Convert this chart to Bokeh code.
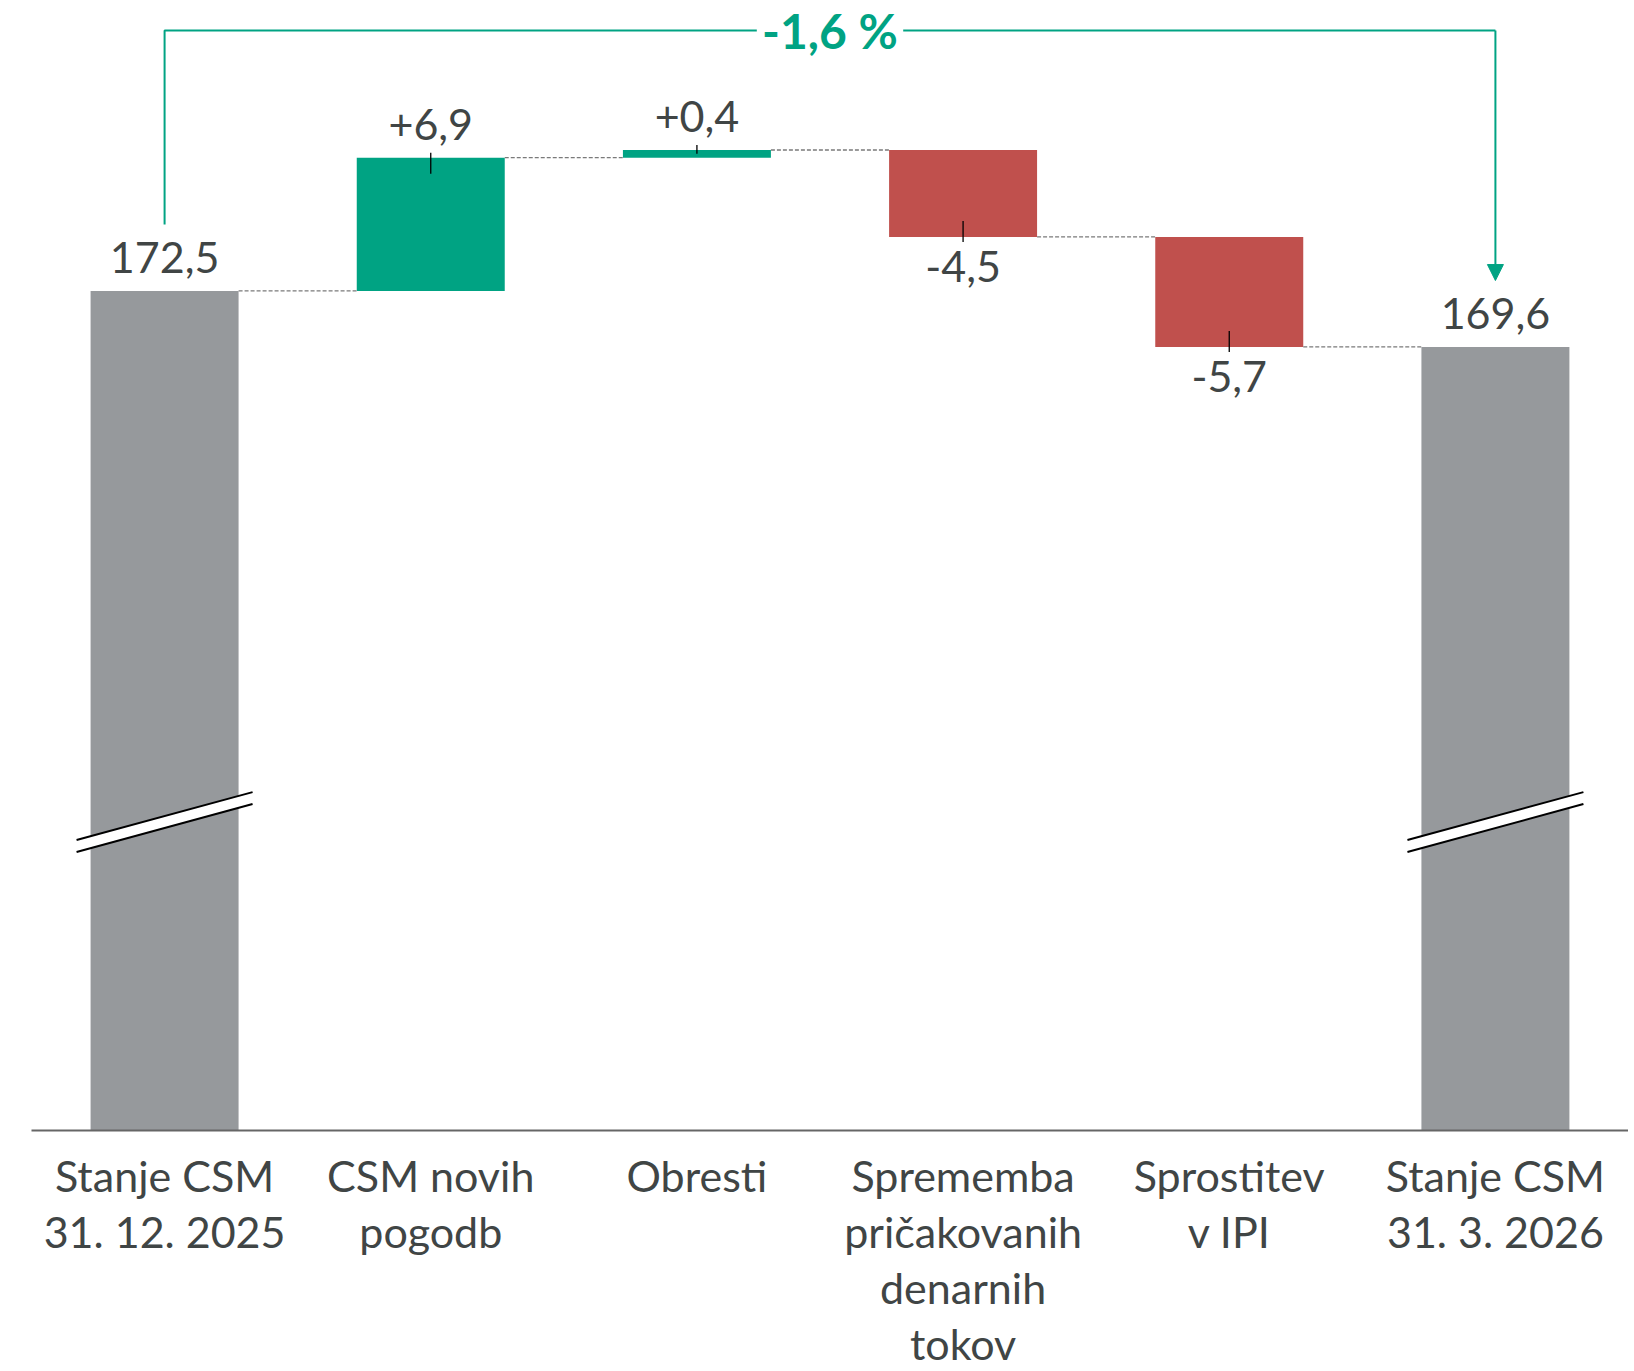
from bokeh.plotting import figure
from bokeh.models import Range1d, FixedTicker, Arrow, NormalHead, ColumnDataSource, LinearAxis
from bokeh.core.properties import value
from bokeh.embed import file_html
from bokeh.resources import INLINE

# ---------------- data ----------------
categories = [
    "Stanje CSM\n31. 12. 2025",
    "CSM novih\npogodb",
    "Obresti",
    "Sprememba\npričakovanih\ndenarnih\ntokov",
    "Sprostitev\nv IPI",
    "Stanje CSM\n31. 3. 2026",
]
start_value = 172.5
changes = [6.9, 0.4, -4.5, -5.7]
end_value = 169.6
change_label = "-1,6 %"

# ---------------- style ----------------
GREEN = "#00A383"
RED = "#C0504D"
GRAY = "#96999C"
TEXT = "#404545"
FONT = "Lato"

Y0, Y1 = 129.03, 187.54          # broken value axis
FIG_W, FIG_H = 1628, 1371
BORDER_BOTTOM = 240
FRAME_H = FIG_H - BORDER_BOTTOM
PX = FRAME_H / (Y1 - Y0)          # pixels per unit
BAR_W = 0.556


def fmt(v, sign=False):
    s = f"{v:+.1f}" if sign else f"{v:.1f}"
    return s.replace(".", ",")


# running levels
levels = [start_value]
for c in changes:
    levels.append(levels[-1] + c)

p = figure(width=FIG_W, height=FIG_H,
           x_range=Range1d(-0.5, 5.5), y_range=Range1d(Y0, Y1),
           output_backend="svg", toolbar_location=None,
           x_axis_location=None, y_axis_location=None,
           min_border_left=31, min_border_right=0,
           min_border_top=0, min_border_bottom=BORDER_BOTTOM)
p.outline_line_color = None
p.background_fill_color = "white"
p.grid.visible = False

# total bars
tot_x = [0, len(categories) - 1]
tot_v = [start_value, end_value]
p.vbar(x=tot_x, top=tot_v, bottom=Y0, width=BAR_W, fill_color=GRAY, line_color=None)

# change bars
chg_x = list(range(1, len(changes) + 1))
bottoms = [min(levels[i], levels[i + 1]) for i in range(len(changes))]
tops = [max(levels[i], levels[i + 1]) for i in range(len(changes))]
colors = [GREEN if c >= 0 else RED for c in changes]
p.vbar(x=chg_x, top=tops, bottom=bottoms, width=BAR_W, fill_color=colors, line_color=None)

# dashed connectors
cx0 = [i + BAR_W / 2 for i in range(len(levels))]
cx1 = [i + 1 - BAR_W / 2 for i in range(len(levels))]
p.segment(x0=cx0, y0=levels, x1=cx1, y1=levels, line_color="#7a7a7a",
          line_width=1.3, line_dash="4 2")

# small ticks at the end of every change
ty0, ty1 = [], []
for i, c in enumerate(changes):
    s, e = levels[i], levels[i + 1]
    if c >= 0:
        ty0.append(e + 5 / PX)
        ty1.append(max(e - 16 / PX, s + 4 / PX))
    else:
        ty0.append(e - 5 / PX)
        ty1.append(min(e + 16 / PX, s - 4 / PX))
p.segment(x0=chg_x, y0=ty0, x1=chg_x, y1=ty1, line_color="black", line_width=1.3)

# value labels
lab_src = ColumnDataSource(dict(
    x=tot_x + chg_x,
    y=tot_v + [levels[i + 1] for i in range(len(changes))],
    t=[fmt(v) for v in tot_v] + [fmt(c, True) for c in changes],
    off=[-33, -33] + [(-33 if c >= 0 else 30) for c in changes],
))
p.text(x="x", y="y", text="t", y_offset="off", source=lab_src,
       text_font=value(FONT), text_font_size="43px", text_color=TEXT,
       text_align="center", text_baseline="alphabetic")

# axis break marks
BREAK_Y = 145.0
half_rise = 24 / PX
half_gap = 6 / PX
half_len = 0.3306
for c in tot_x:
    xl, xr = c - half_len, c + half_len
    yl, yr = BREAK_Y - half_rise, BREAK_Y + half_rise
    p.patch([xl, xr, xr, xl], [yl + half_gap, yr + half_gap, yr - half_gap, yl - half_gap],
            fill_color="white", line_color=None)
    p.line([xl, xr], [yl + half_gap, yr + half_gap], line_color="black", line_width=2)
    p.line([xl, xr], [yl - half_gap, yr - half_gap], line_color="black", line_width=2)

# bracket with change percentage
TOP_Y = Y1 - 30 / PX
GAP = 66.5 / PX
mid = (tot_x[0] + tot_x[1]) / 2
gap_half = 0.275
p.line([tot_x[0], tot_x[0], mid - gap_half], [start_value + GAP, TOP_Y, TOP_Y],
       line_color=GREEN, line_width=2)
p.line([mid + gap_half, tot_x[1]], [TOP_Y, TOP_Y], line_color=GREEN, line_width=2)
p.add_layout(Arrow(end=NormalHead(size=16, fill_color=GREEN, line_color=GREEN),
                   x_start=tot_x[1], y_start=TOP_Y, x_end=tot_x[1], y_end=end_value + GAP,
                   line_color=GREEN, line_width=2))
p.text(x=[mid], y=[TOP_Y], text=[change_label], text_font=value(FONT),
       text_font_style="bold", text_font_size="48px", text_color=GREEN,
       text_align="center", text_baseline="middle")

# category axis
xaxis = LinearAxis(ticker=FixedTicker(ticks=list(range(len(categories)))),
                   major_label_overrides={i: lab for i, lab in enumerate(categories)})
xaxis.axis_line_color = "#666666"
xaxis.axis_line_width = 2
xaxis.major_tick_line_color = None
xaxis.minor_tick_line_color = None
xaxis.major_label_text_font = FONT
xaxis.major_label_text_font_size = "43px"
xaxis.major_label_text_color = TEXT
xaxis.major_label_text_line_height = 1.1
xaxis.major_label_standoff = 13
xaxis.major_label_orientation = "horizontal"
p.add_layout(xaxis, "below")

open("out.html", "w").write(file_html(p, INLINE))
